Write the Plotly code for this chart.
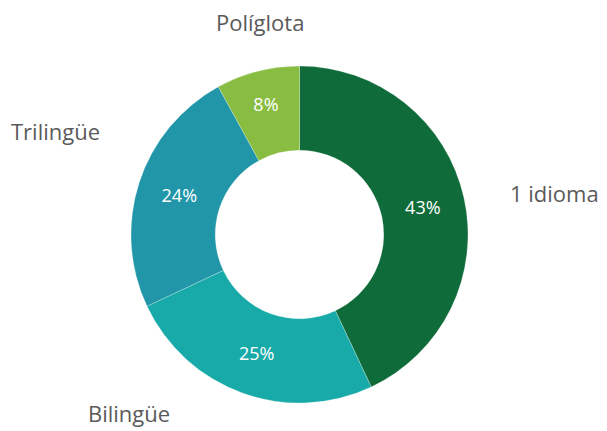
import plotly.graph_objects as go

labels = ["1 idioma", "Bilingüe", "Trilingüe", "Políglota"]
values = [43, 25, 24, 8]
colors = ["#0f6b3a", "#17aaa8", "#2096a8", "#88bd42"]

# outer label anchor points (page pixels, text centre)
label_pos = {
    "1 idioma": (554, 193),
    "Bilingüe": (129, 413),
    "Trilingüe": (55, 131),
    "Políglota": (260, 22),
}

W, H = 607, 431
OFF = 8  # page body margin
cx, cy, R = 299.5 - OFF, 234.5 - OFF, 168.5
dom_x = [(cx - R) / W, (cx + R) / W]
dom_y = [(H - cy - R) / H, (H - cy + R) / H]

FONT = "Open Sans"

fig = go.Figure()
fig.add_trace(go.Pie(
    labels=labels, values=values, sort=False, direction="clockwise", rotation=0,
    hole=0.5, domain=dict(x=dom_x, y=dom_y),
    marker=dict(colors=colors, line=dict(color="rgba(255,255,255,0.5)", width=0.5)),
    texttemplate="%{percent:.0%}", textposition="inside", insidetextorientation="horizontal",
    textfont=dict(family=FONT, size=18, color="white"),
    showlegend=False,
))
for lab in labels:
    px, py = label_pos[lab]
    fig.add_annotation(
        text=lab, xref="paper", yref="paper",
        x=(px - OFF) / W, y=1 - (py - OFF) / H,
        xanchor="center", yanchor="middle", showarrow=False,
        font=dict(family=FONT, size=22, color="#5a5a5a"),
    )
fig.update_layout(
    width=W, height=H, margin=dict(l=0, r=0, t=0, b=0),
    paper_bgcolor="white", plot_bgcolor="white",
    font=dict(family=FONT),
)
fig.write_html("out.html")
